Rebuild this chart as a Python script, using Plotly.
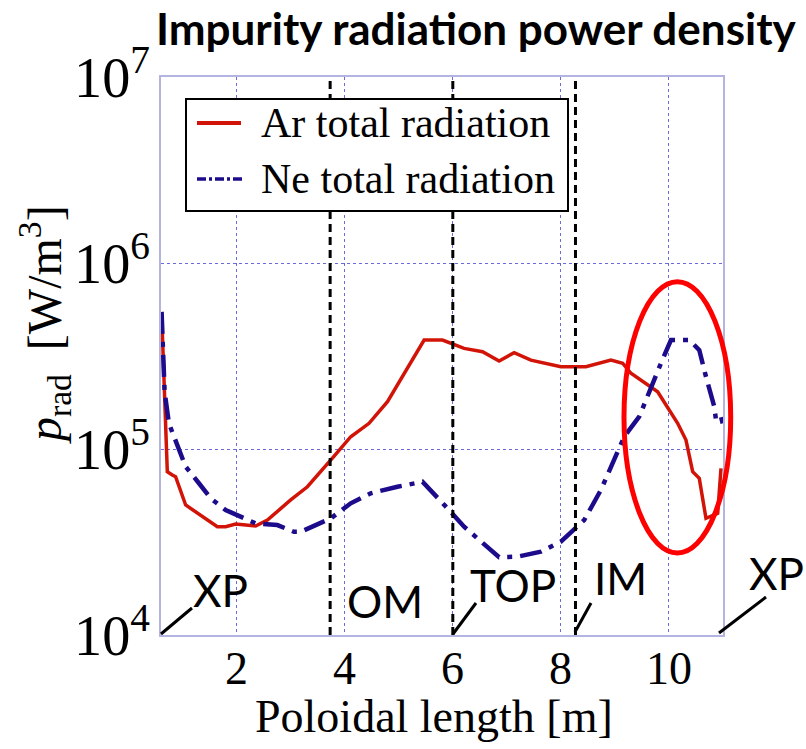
import plotly.graph_objects as go

# ---- data ----
ar_x = [0.611, 0.654, 0.717, 0.809, 0.870, 1.056, 1.272, 1.643, 1.796, 1.981, 2.352, 2.569,
        3.000, 3.309, 3.796, 4.111, 4.450, 4.791, 5.469, 5.809, 6.209, 6.550, 6.857, 7.135,
        7.444, 8.000, 8.463, 8.926, 9.143, 9.296, 9.791, 10.161, 10.315, 10.439, 10.561,
        10.685, 10.902, 10.963]
ar_log = [5.737, 5.371, 4.878, 4.860, 4.851, 4.699, 4.654, 4.582, 4.582, 4.597, 4.586, 4.618,
          4.726, 4.797, 4.959, 5.066, 5.138, 5.254, 5.586, 5.586, 5.541, 5.523, 5.473, 5.518,
          5.478, 5.442, 5.442, 5.478, 5.461, 5.407, 5.308, 5.138, 5.048, 4.878, 4.842,
          4.627, 4.654, 4.896]

ne_x = [0.611, 0.643, 0.667, 0.746, 0.870, 1.056, 1.302, 1.519, 1.796, 2.198, 2.352, 2.754,
        3.061, 3.185, 3.611, 3.741, 4.111, 4.481, 4.976, 5.439, 5.902, 6.209, 6.857, 7.198,
        7.630, 8.000, 8.431, 8.741, 9.172, 9.450, 9.852, 10.037, 10.376, 10.561, 10.685,
        10.839, 10.870, 10.963, 10.994]
ne_log = [5.737, 5.442, 5.308, 5.138, 5.039, 4.905, 4.816, 4.735, 4.672, 4.618, 4.600, 4.591,
          4.555, 4.555, 4.609, 4.627, 4.708, 4.762, 4.797, 4.824, 4.681, 4.582, 4.418, 4.421,
          4.448, 4.502, 4.618, 4.780, 5.066, 5.174, 5.461, 5.586, 5.586, 5.532, 5.389,
          5.227, 5.156, 5.174, 5.138]

ar_y = [10 ** v for v in ar_log]
ne_y = [10 ** v for v in ne_log]

series_names = ["Ar total radiation", "Ne total radiation"]
x_ticks = [2, 4, 6, 8, 10]
region_bounds = [3.73, 6.0, 8.27]
region_labels = ["XP", "OM", "TOP", "IM", "XP"]

# ---- figure ----
W, H = 806, 749
L, R, T, B = 161, 83, 77, 114
pw, ph = W - L - R, H - T - B


def px(x):
    return (x - L) / pw


def py(y):
    return (H - B - y) / ph


serif = "Liberation Serif, Times New Roman, serif"
sans = "Lato, Carlito, Open Sans, sans-serif"
AR_COLOR = "#d21408"
NE_COLOR = "#1c0c8c"

fig = go.Figure()
fig.add_trace(go.Scatter(x=ar_x, y=ar_y, mode="lines", name=series_names[0],
                         line=dict(color=AR_COLOR, width=3.5)))
fig.add_trace(go.Scatter(x=ne_x, y=ne_y, mode="lines", name=series_names[1],
                         line=dict(color=NE_COLOR, width=4.5, dash="22px,8px,5px,8px")))

shapes = []
for xb in region_bounds:
    shapes.append(dict(type="line", xref="x", yref="paper", x0=xb, x1=xb, y0=0, y1=1,
                       line=dict(color="black", width=3, dash="8px,5px")))
# legend box (drawn manually, on top of the dashed lines)
shapes.append(dict(type="rect", xref="paper", yref="paper", layer="above",
                   x0=px(186), x1=px(568), y0=py(211), y1=py(99),
                   fillcolor="white", line=dict(color="black", width=2)))
shapes.append(dict(type="line", xref="paper", yref="paper", layer="above",
                   x0=px(197), x1=px(241), y0=py(123), y1=py(123),
                   line=dict(color=AR_COLOR, width=4)))
shapes.append(dict(type="line", xref="paper", yref="paper", layer="above",
                   x0=px(197), x1=px(243), y0=py(179), y1=py(179),
                   line=dict(color=NE_COLOR, width=3.5, dash="9px,3px,3px,3px")))
# ellipse highlight
shapes.append(dict(type="circle", xref="paper", yref="paper",
                   x0=px(624), x1=px(730.7), y0=py(553), y1=py(281.7),
                   line=dict(color="#ff0000", width=5)))
# leader lines for region labels
for (xa, ya, xb_, yb) in [(161, 634, 192, 608), (453, 634, 476, 603),
                          (575, 632, 591, 603), (719, 633, 766, 597)]:
    shapes.append(dict(type="line", xref="paper", yref="paper",
                       x0=px(xa), y0=py(ya), x1=px(xb_), y1=py(yb),
                       line=dict(color="black", width=3)))

annotations = []
# x tick labels placed on the data scale
for xt in x_ticks:
    annotations.append(dict(text=str(xt), xref="x", yref="paper", x=xt, y=py(668),
                            xanchor="center", yanchor="middle", showarrow=False,
                            font=dict(family=serif, size=46, color="black")))
for name, cy in zip(series_names, [123, 179]):
    annotations.append(dict(text=name, xref="paper", yref="paper", x=px(259), y=py(cy),
                            xanchor="left", yanchor="middle", showarrow=False,
                            font=dict(family=serif, size=42, color="black")))
for lab, (cx, cy) in zip(region_labels, [(220, 590), (385, 601), (513, 585), (620, 578), (776, 573)]):
    annotations.append(dict(text=lab, xref="paper", yref="paper", x=px(cx), y=py(cy),
                            xanchor="center", yanchor="middle", showarrow=False,
                            font=dict(family=sans, size=44, color="black")))
annotations.append(dict(text="<b>Impurity radiation power density</b>", xref="paper", yref="paper",
                        x=px(476), y=py(28), xanchor="center", yanchor="middle", showarrow=False,
                        font=dict(family=sans, size=44, color="black")))
annotations.append(dict(text="<i>p</i><sub>rad</sub>\u00a0\u00a0[W/m<sup>3</sup>]", xref="paper", yref="paper",
                        x=px(44), y=py(325), xanchor="center", yanchor="middle", showarrow=False,
                        textangle=-90, font=dict(family=serif, size=48, color="black")))
annotations.append(dict(text="Poloidal length [m]", xref="paper", yref="paper",
                        x=px(434), y=py(716), xanchor="center", yanchor="middle", showarrow=False,
                        font=dict(family=serif, size=46, color="black")))

axis_common = dict(showgrid=True, gridcolor="#6a6ad8", griddash="dot", gridwidth=1,
                   showline=True, linecolor="#b4b4e0", linewidth=2, mirror=True,
                   ticks="", zeroline=False,
                   tickfont=dict(family=serif, size=45, color="black"))

fig.update_layout(
    width=W, height=H,
    margin=dict(l=L, r=R, t=T, b=B, pad=0),
    paper_bgcolor="white", plot_bgcolor="white",
    showlegend=False,
    xaxis=dict(range=[0.6, 11.0], tickvals=x_ticks, showticklabels=False, **axis_common),
    yaxis=dict(type="log", range=[4, 7], dtick=1, exponentformat="power", showexponent="all",
               **axis_common),
    shapes=shapes,
    annotations=annotations,
)

fig.write_html("out.html")
